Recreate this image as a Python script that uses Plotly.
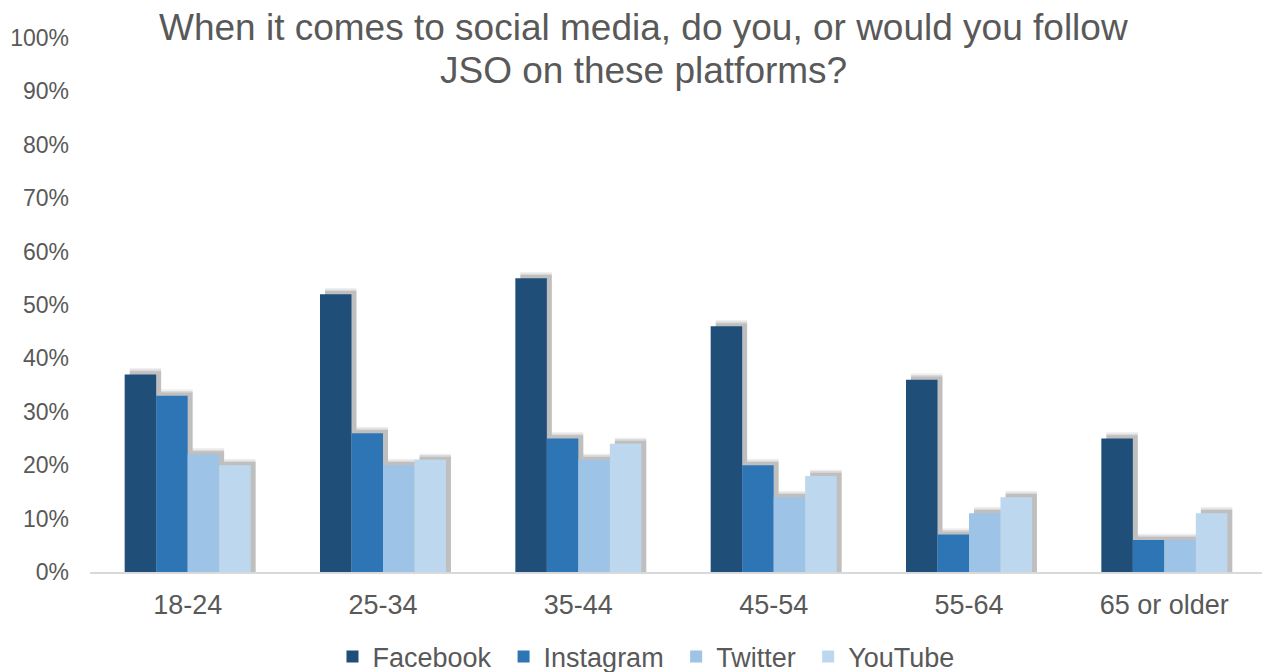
import plotly.graph_objects as go

categories = ["18-24", "25-34", "35-44", "45-54", "55-64", "65 or older"]
series_names = ["Facebook", "Instagram", "Twitter", "YouTube"]
facebook = [0.37, 0.52, 0.55, 0.46, 0.36, 0.25]
instagram = [0.33, 0.26, 0.25, 0.20, 0.07, 0.06]
twitter = [0.22, 0.20, 0.21, 0.14, 0.11, 0.06]
youtube = [0.20, 0.21, 0.24, 0.18, 0.14, 0.11]
y_ticks = [i / 10 for i in range(11)]
y_tick_labels = [f"{i * 10}%" for i in range(11)]
title_lines = ["When it comes to social media, do you, or would you follow",
               "JSO on these platforms?"]

colors = ["#1F4E79", "#2E75B6", "#9DC3E6", "#BDD7EE"]
values = [facebook, instagram, twitter, youtube]

fig = go.Figure()

# Soft drop shadows (on base axis 'x', shifted right; drawn under real bars)
shadow_layers = [(0.012, "rgba(0,0,0,0.06)"), (0.009, "rgba(0,0,0,0.09)"), (0.006, "rgba(0,0,0,0.12)")]
for dy, col in shadow_layers:
    for name, vals in zip(series_names, values):
        fig.add_trace(go.Bar(
            x=categories, y=[v + dy for v in vals], name=name,
            marker=dict(color=col, line=dict(width=0)),
            xaxis="x", yaxis="y", showlegend=False, hoverinfo="skip",
            offsetgroup=name,
        ))

for name, vals, col in zip(series_names, values, colors):
    fig.add_trace(go.Bar(
        x=categories, y=vals, name=name + "\u00a0",
        marker=dict(color=col, line=dict(width=0)),
        xaxis="x2", yaxis="y", offsetgroup=name,
    ))

shift = 5 / 195.5
plot_top, plot_bottom, plot_left, plot_w = 38, 572, 90, 1172
title_y_px = [27, 70]
annotations = [
    dict(text=t, xref="paper", yref="paper",
         x=(643 - plot_left) / plot_w, y=(plot_bottom - yp) / (plot_bottom - plot_top),
         xanchor="center", yanchor="middle", showarrow=False,
         font=dict(size=37, color="#595959"))
    for t, yp in zip(title_lines, title_y_px)
]

fig.update_layout(
    width=1262, height=672,
    paper_bgcolor="white", plot_bgcolor="white",
    margin=dict(l=90, r=0, t=38, b=100, autoexpand=False),
    barmode="group", bargap=0.355, bargroupgap=0,
    font=dict(family="Liberation Sans, Arial, sans-serif", color="#595959"),
    annotations=annotations,
    xaxis=dict(
        type="category", range=[-0.5 - shift, 5.5 - shift],
        visible=False, showgrid=False, zeroline=False, automargin=False,
    ),
    xaxis2=dict(
        type="category", overlaying="x", anchor="y", side="bottom",
        range=[-0.5, 5.5], showgrid=False, zeroline=False,
        showline=True, linecolor="#D9D9D9", linewidth=2,
        ticks="", tickfont=dict(size=27, color="#595959"),
        ticklabelstandoff=8, automargin=False,
    ),
    yaxis=dict(
        range=[0, 1], tickvals=y_ticks, ticktext=y_tick_labels,
        showgrid=False, zeroline=False, showline=False, ticks="",
        tickfont=dict(size=23, color="#595959"), ticklabelstandoff=20,
        automargin=False,
    ),
    legend=dict(
        orientation="h", xref="container", yref="container",
        x=650 / 1262, xanchor="center", y=1 - 657 / 672, yanchor="middle",
        font=dict(size=27, color="#595959"), traceorder="normal",
        itemwidth=30, bgcolor="rgba(0,0,0,0)",
    ),
)

fig.write_html("out.html", config={"displayModeBar": False},
               post_script="document.body.style.margin='0';")
